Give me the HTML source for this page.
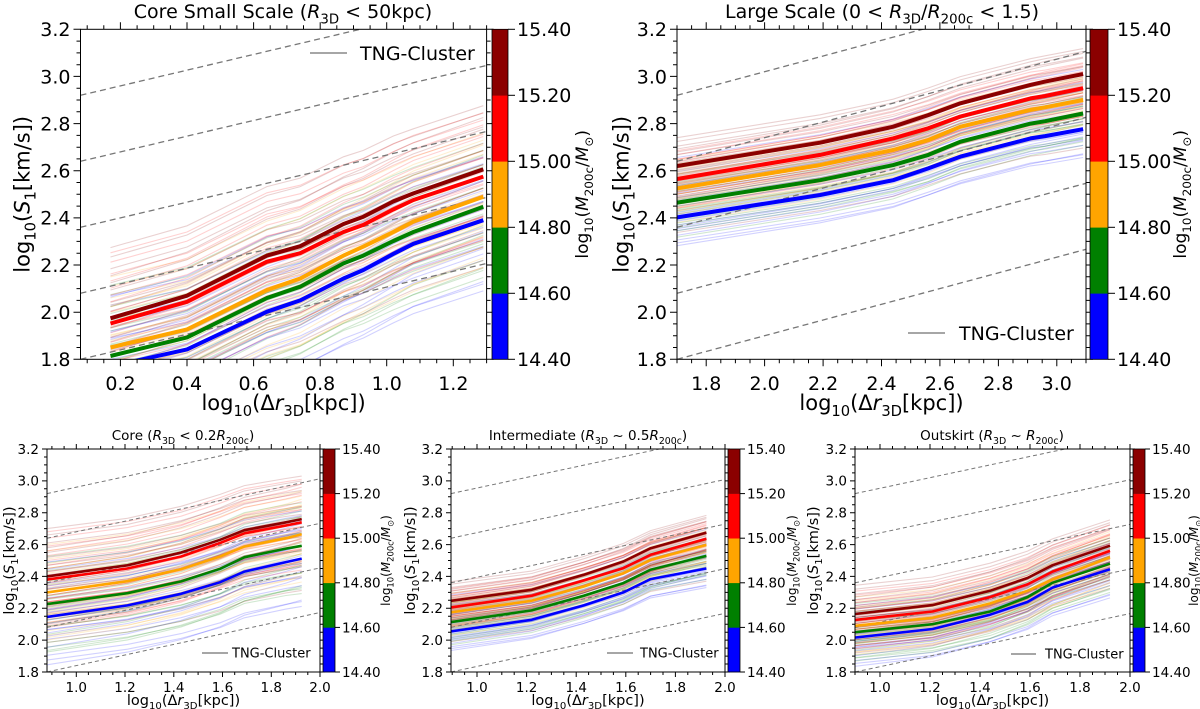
<!DOCTYPE html>
<html><head><meta charset="utf-8">
<style>
html,body{margin:0;padding:0;background:#fff}
svg{display:block}
text{font-family:"DejaVu Sans","Liberation Sans",sans-serif;fill:#000}
</style></head>
<body>
<svg id="fig" width="1200" height="709" viewBox="0 0 1200 709" xmlns="http://www.w3.org/2000/svg"></svg>
<script>
// ---------- data ----------
const slopeOffsets = [1.80, 2.08, 2.36, 2.64, 2.92];
const yTicks = [1.8, 2.0, 2.2, 2.4, 2.6, 2.8, 3.0, 3.2];
const massTickLabels = ["14.40", "14.60", "14.80", "15.00", "15.20", "15.40"];
const binNames = ["blue", "green", "orange", "red", "darkred"];

const thinOffStart = [-0.30, -0.27, -0.24, -0.21, -0.19, -0.16, -0.14, -0.12, -0.10, -0.08, -0.06, -0.04, -0.02, 0.00, 0.03, 0.05, 0.07, 0.09, 0.12, 0.15, 0.18, 0.21, 0.26, 0.30];
const thinOffEnd   = [-0.26, -0.30, -0.27, -0.17, -0.12, -0.20, -0.17, -0.08, -0.05, -0.11, -0.09, 0.00, 0.02, -0.03, 0.00, 0.08, 0.11, 0.05, 0.08, 0.17, 0.22, 0.18, 0.24, 0.27];

const xA = [0.17, 0.40, 0.64, 0.74, 0.87, 0.93, 1.02, 1.08, 1.29];
const A_blue    = [1.77, 1.842, 2.002, 2.05, 2.143, 2.179, 2.247, 2.29, 2.39];
const A_green   = [1.814, 1.893, 2.06, 2.108, 2.207, 2.24, 2.302, 2.34, 2.447];
const A_orange  = [1.85, 1.927, 2.094, 2.143, 2.24, 2.278, 2.34, 2.384, 2.49];
const A_red     = [1.952, 2.044, 2.214, 2.25, 2.34, 2.37, 2.436, 2.476, 2.575];
const A_darkred = [1.974, 2.07, 2.24, 2.28, 2.374, 2.405, 2.47, 2.504, 2.606];

const xB = [1.70, 2.19, 2.44, 2.56, 2.67, 2.91, 2.96, 3.09];
const B_blue    = [2.402, 2.497, 2.56, 2.61, 2.66, 2.737, 2.747, 2.776];
const B_green   = [2.465, 2.56, 2.624, 2.667, 2.723, 2.80, 2.81, 2.843];
const B_orange  = [2.525, 2.624, 2.688, 2.73, 2.787, 2.858, 2.869, 2.90];
const B_red     = [2.565, 2.667, 2.737, 2.78, 2.83, 2.907, 2.917, 2.95];
const B_darkred = [2.62, 2.719, 2.787, 2.836, 2.886, 2.964, 2.978, 3.01];

const xC = [0.88, 1.21, 1.43, 1.59, 1.69, 1.86, 1.925];
const C_blue    = [2.145, 2.218, 2.291, 2.364, 2.43, 2.49, 2.512];
const C_green   = [2.226, 2.295, 2.369, 2.448, 2.52, 2.575, 2.592];
const C_orange  = [2.30, 2.37, 2.446, 2.525, 2.587, 2.64, 2.665];
const C_red     = [2.38, 2.45, 2.525, 2.61, 2.67, 2.72, 2.74];
const C_darkred = [2.40, 2.47, 2.55, 2.63, 2.69, 2.74, 2.76];

const xD = [0.895, 1.22, 1.43, 1.59, 1.70, 1.925];
const D_blue    = [2.055, 2.128, 2.218, 2.30, 2.383, 2.45];
const D_green   = [2.113, 2.187, 2.279, 2.358, 2.442, 2.529];
const D_orange  = [2.174, 2.247, 2.337, 2.42, 2.504, 2.598];
const D_red     = [2.205, 2.279, 2.375, 2.452, 2.536, 2.636];
const D_darkred = [2.247, 2.316, 2.41, 2.494, 2.577, 2.675];

const xE = [0.90, 1.21, 1.44, 1.59, 1.69, 1.92];
const E_blue    = [2.016, 2.07, 2.16, 2.24, 2.33, 2.445];
const E_green   = [2.05, 2.10, 2.18, 2.27, 2.36, 2.48];
const E_orange  = [2.09, 2.14, 2.23, 2.31, 2.38, 2.52];
const E_red     = [2.127, 2.18, 2.27, 2.35, 2.43, 2.56];
const E_darkred = [2.164, 2.22, 2.31, 2.39, 2.47, 2.593];

// ---------- styling / layout ----------
const binColors = ["#0000ff", "#008000", "#ffa500", "#ff0000", "#8b0000"];
const NS = "http://www.w3.org/2000/svg";
const svg = document.getElementById("fig");

const big = {tick: 19, lab: 21, title: 19, cb: 17, leg: 19, maj: 7, min: 4, mw: 4, dash: "6,4"};
const sml = {tick: 13.5, lab: 14.5, title: 13.5, cb: 12, leg: 13, maj: 5, min: 3, mw: 2.6, dash: "4,3"};

const panels = [
  {id: "core-small-scale", x0: 80.5, x1: 486.6, y0: 29.3, y1: 359.3, xmin: 0.08, xmax: 1.30,
   xt: [0.2, 0.4, 0.6, 0.8, 1.0, 1.2], cb0: 492, cb1: 508, f: big, spread: 1.0,
   xs: xA, ys: [A_blue, A_green, A_orange, A_red, A_darkred],
   title: [["Core Small Scale ("], ["R", "i"], ["3D", "s"], [" < 50kpc)"]], tx: 283, ty: 18,
   ylx: 22, cblx: 582, xly: 410, xlty: 390, leg: [310, 347, 53, 360]},
  {id: "large-scale", x0: 677, x1: 1086, y0: 29.3, y1: 359.3, xmin: 1.70, xmax: 3.10,
   xt: [1.8, 2.0, 2.2, 2.4, 2.6, 2.8, 3.0], cb0: 1090, cb1: 1108, f: big, spread: 0.4,
   xs: xB, ys: [B_blue, B_green, B_orange, B_red, B_darkred],
   title: [["Large Scale (0 < "], ["R", "i"], ["3D", "s"], ["/"], ["R", "i"], ["200c", "s"], [" < 1.5)"]], tx: 882, ty: 18,
   ylx: 621, cblx: 1180, xly: 410, xlty: 390, leg: [908, 945, 333, 959]},
  {id: "core", x0: 47, x1: 320, y0: 449, y1: 672, xmin: 0.88, xmax: 2.0,
   xt: [1.0, 1.2, 1.4, 1.6, 1.8, 2.0], cb0: 323, cb1: 335, f: sml, spread: 1.0,
   xs: xC, ys: [C_blue, C_green, C_orange, C_red, C_darkred],
   title: [["Core ("], ["R", "i"], ["3D", "s"], [" < 0.2"], ["R", "i"], ["200c", "s"], [")"]], tx: 183, ty: 440,
   ylx: 9, cblx: 386, xly: 705, xlty: 692, leg: [202, 228, 653, 232]},
  {id: "intermediate", x0: 451, x1: 725, y0: 449, y1: 672, xmin: 0.895, xmax: 2.0,
   xt: [1.0, 1.2, 1.4, 1.6, 1.8, 2.0], cb0: 728, cb1: 740, f: sml, spread: 0.4,
   xs: xD, ys: [D_blue, D_green, D_orange, D_red, D_darkred],
   title: [["Intermediate ("], ["R", "i"], ["3D", "s"], [" ~ 0.5"], ["R", "i"], ["200c", "s"], [")"]], tx: 588, ty: 440,
   ylx: 410, cblx: 792, xly: 705, xlty: 692, leg: [607, 633, 653, 640]},
  {id: "outskirt", x0: 855, x1: 1130, y0: 449, y1: 672, xmin: 0.9, xmax: 2.0,
   xt: [1.0, 1.2, 1.4, 1.6, 1.8, 2.0], cb0: 1133, cb1: 1145, f: sml, spread: 0.6,
   xs: xE, ys: [E_blue, E_green, E_orange, E_red, E_darkred],
   title: [["Outskirt ("], ["R", "i"], ["3D", "s"], [" ~ "], ["R", "i"], ["200c", "s"], [")"]], tx: 992, ty: 440,
   ylx: 813, cblx: 1194, xly: 705, xlty: 692, leg: [1011, 1036, 654, 1045]}
];

function mk(tag, attrs, parent) {
  const e = document.createElementNS(NS, tag);
  for (const k in attrs) e.setAttribute(k, attrs[k]);
  (parent || svg).appendChild(e);
  return e;
}
function rich(textEl, segs, fs) {
  let shifted = false;
  for (const s of segs) {
    const t = document.createElementNS(NS, "tspan");
    const st = s[1] || "";
    if (st.includes("i")) t.setAttribute("font-style", "italic");
    if (st.includes("s")) {
      t.setAttribute("font-size", (fs * 0.7).toFixed(1));
      if (!shifted) { t.setAttribute("dy", (fs * 0.28).toFixed(1)); shifted = true; }
    } else if (shifted) {
      t.setAttribute("dy", (-fs * 0.28).toFixed(1)); shifted = false;
    }
    t.textContent = s[0];
    textEl.appendChild(t);
  }
}
const yLabelSegs = [["log"], ["10", "s"], ["("], ["S", "i"], ["1", "s"], ["[km/s])"]];
const xLabelSegs = [["log"], ["10", "s"], ["(Δ"], ["r", "i"], ["3D", "s"], ["[kpc])"]];
const cbLabelSegs = [["log"], ["10", "s"], ["("], ["M", "i"], ["200c", "s"], ["/"], ["M", "i"], ["⊙", "s"], [")"]];

panels.forEach((p, pi) => {
  const f = p.f;
  const sx = v => p.x0 + (v - p.xmin) / (p.xmax - p.xmin) * (p.x1 - p.x0);
  const sy = v => p.y1 - (v - 1.8) / 1.4 * (p.y1 - p.y0);
  const g = mk("g", {});
  
  
  const defs = mk("defs", {}, g);
  const cp = mk("clipPath", {id: "clip" + pi}, defs);
  mk("rect", {x: p.x0, y: p.y0, width: p.x1 - p.x0, height: p.y1 - p.y0}, cp);

  const thin = mk("g", {"clip-path": "url(#clip" + pi + ")"}, g);
  
  
  const n = p.xs.length;
  p.ys.forEach((series, bi) => {
    thinOffStart.forEach((o0, k) => {
      const o1 = thinOffEnd[k];
      const pts = p.xs.map((xv, i) => {
        const t = i / (n - 1);
        const yv = series[i] + p.spread * (o0 + (o1 - o0) * t);
        return sx(xv).toFixed(1) + "," + sy(yv).toFixed(1);
      }).join(" ");
      const col = binColors[(bi + (k % 7 === 3 ? 1 : 0) + (k % 11 === 5 ? 4 : 0)) % 5];
      const l = mk("polyline", {points: pts, fill: "none", stroke: col, "stroke-opacity": 0.18, "stroke-width": 1.1}, thin);
      
      
    });
  });

  const dg = mk("g", {"clip-path": "url(#clip" + pi + ")"}, g);
  
  
  slopeOffsets.forEach(c => {
    const l = mk("line", {x1: sx(p.xmin), y1: sy(c), x2: sx(p.xmax), y2: sy(c + (p.xmax - p.xmin) / 3),
      stroke: "#777", "stroke-width": f === big ? 1.3 : 1, "stroke-dasharray": f.dash}, dg);
    
    
  });

  const mg = mk("g", {"clip-path": "url(#clip" + pi + ")"}, g);
  p.ys.forEach((series, bi) => {
    const pts = p.xs.map((xv, i) => sx(xv).toFixed(1) + "," + sy(series[i]).toFixed(1)).join(" ");
    const l = mk("polyline", {points: pts, fill: "none", stroke: binColors[bi], "stroke-width": f.mw, "stroke-linejoin": "round"}, mg);
    
    
  });

  const sp = mk("rect", {x: p.x0, y: p.y0, width: p.x1 - p.x0, height: p.y1 - p.y0, fill: "none", stroke: "#000", "stroke-width": 1}, g);
  
  

  let d = "";
  for (let v = 1.8; v <= 3.2001; v += 0.05) {
    const maj = Math.abs(v * 5 - Math.round(v * 5)) < 1e-6;
    const L = maj ? f.maj : f.min, y = sy(v).toFixed(1);
    d += `M${p.x0 - L},${y}H${p.x0}M${p.x1},${y}H${p.x1 + L}`;
  }
  for (let v = Math.ceil(p.xmin / 0.05 - 1e-6) * 0.05; v <= p.xmax + 1e-6; v += 0.05) {
    const maj = Math.abs(v * 5 - Math.round(v * 5)) < 1e-6;
    const L = maj ? f.maj : f.min, x = sx(v).toFixed(1);
    d += `M${x},${p.y1}V${p.y1 + L}M${x},${p.y0}V${p.y0 - L}`;
  }
  const tk = mk("path", {d: d, stroke: "#000", "stroke-width": 1, fill: "none"}, g);
  
  

  yTicks.forEach(v => {
    const t = mk("text", {x: p.x0 - f.maj - 3, y: sy(v) + f.tick * 0.36, "text-anchor": "end", "font-size": f.tick}, g);
    
    
    t.textContent = v.toFixed(1);
  });
  p.xt.forEach(v => {
    const t = mk("text", {x: sx(v), y: p.xlty, "text-anchor": "middle", "font-size": f.tick}, g);
    
    
    t.textContent = v.toFixed(1);
  });

  const tt = mk("text", {x: p.tx, y: p.ty, "text-anchor": "middle", "font-size": f.title}, g);
  
  
  rich(tt, p.title, f.title);

  const xl = mk("text", {x: (p.x0 + p.x1) / 2, y: p.xly, "text-anchor": "middle", "font-size": f.lab}, g);
  
  
  rich(xl, xLabelSegs, f.lab);
  const yc = (p.y0 + p.y1) / 2;
  const yl = mk("text", {x: 0, y: 0, "text-anchor": "middle", "font-size": f.lab,
    transform: `translate(${p.ylx + f.lab * 0.35},${yc}) rotate(-90)`}, g);
  
  
  rich(yl, yLabelSegs, f.lab);

  const lg = mk("g", {}, g);
  
  
  mk("line", {x1: p.leg[0], x2: p.leg[1], y1: p.leg[2], y2: p.leg[2], stroke: "#888", "stroke-width": 1.5}, lg);
  const lt = mk("text", {x: p.leg[3], y: p.leg[2] + f.leg * 0.36, "font-size": f.leg}, lg);
  lt.textContent = "TNG-Cluster";

  const cb = mk("g", {}, g);
  
  
  const segH = (p.y1 - p.y0) / 5;
  binColors.forEach((c, i) => {
    mk("rect", {x: p.cb0, y: p.y1 - (i + 1) * segH, width: p.cb1 - p.cb0, height: segH + 0.3, fill: c}, cb);
  });
  mk("rect", {x: p.cb0, y: p.y0, width: p.cb1 - p.cb0, height: p.y1 - p.y0, fill: "none", stroke: "#000", "stroke-width": 0.8}, cb);
  massTickLabels.forEach((s, i) => {
    const y = p.y1 - i * segH;
    mk("line", {x1: p.cb1, x2: p.cb1 + f.maj, y1: y, y2: y, stroke: "#000", "stroke-width": 1}, cb);
    const t = mk("text", {x: p.cb1 + f.maj + 2, y: y + f.tick * 0.36, "font-size": f.tick}, cb);
    
    
    t.textContent = s;
  });
  const cl = mk("text", {x: 0, y: 0, "text-anchor": "middle", "font-size": f.cb,
    transform: `translate(${p.cblx + f.cb * 0.35},${yc}) rotate(-90)`}, g);
  
  
  rich(cl, cbLabelSegs, f.cb);
});
</script>
</body></html>
